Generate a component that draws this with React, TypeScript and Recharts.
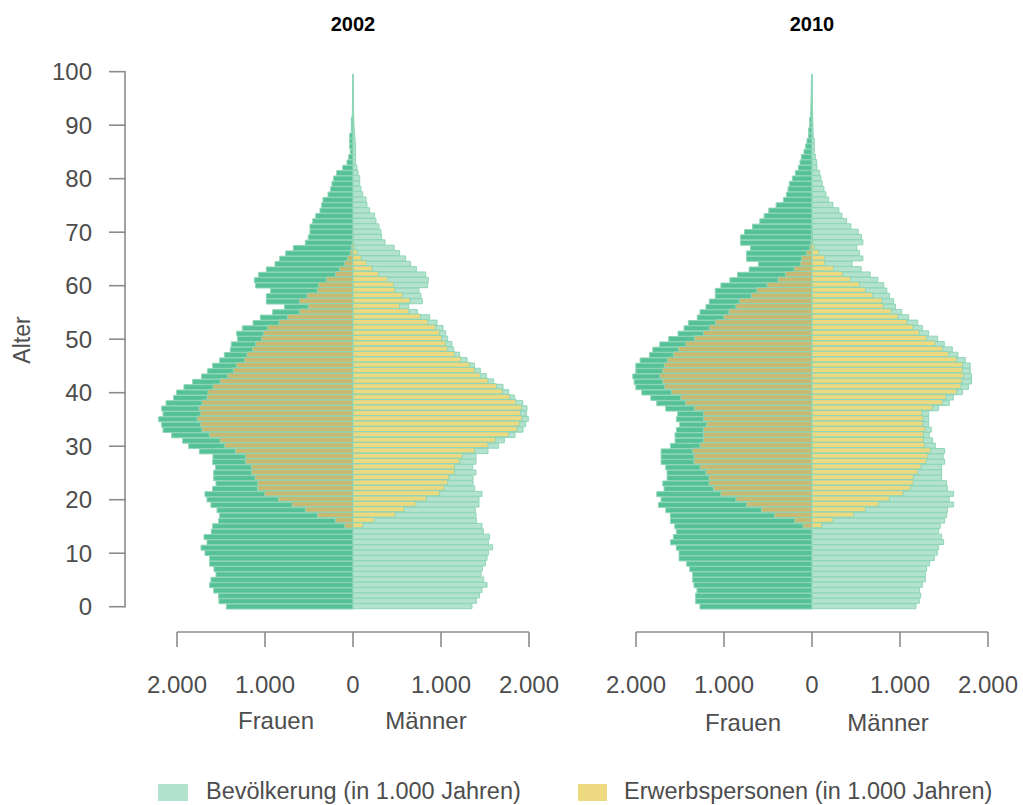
import React from 'react';
import { BarChart, Bar, XAxis, YAxis } from 'recharts';

// ---------- data (thousands of persons, index = age) ----------
const AGE_CATEGORIES = Array.from({ length: 101 }, (_, i) => i); // 0..100
const AGE_TICKS = [0, 10, 20, 30, 40, 50, 60, 70, 80, 90, 100];
const X_TICKS = [-2000, -1000, 0, 1000, 2000];
const LABOR_FIRST_AGE = 15;

const WOMEN_2002 = [
  1439, 1523, 1527, 1583, 1629, 1614, 1557, 1580, 1629, 1629,
  1682, 1727, 1659, 1693, 1610, 1595, 1527, 1515, 1545, 1614,
  1659, 1682, 1595, 1557, 1583, 1583, 1561, 1595, 1591, 1746,
  1867, 1936, 2061, 2159, 2174, 2208, 2159, 2174, 2125, 2038,
  2004, 1921, 1822, 1720, 1652, 1595, 1515, 1462, 1394, 1383,
  1311, 1322, 1258, 1136, 1053, 913, 780, 985, 985, 936,
  1106, 1121, 1072, 985, 886, 833, 765, 678, 542, 508,
  489, 489, 458, 424, 375, 356, 341, 284, 254, 239,
  220, 186, 117, 68, 49, 30, 38, 38, 38, 19,
  19, 19, 8, 7, 6, 6, 5, 5, 4, 4,
];
const MEN_2002 = [
  1352, 1402, 1436, 1466, 1523, 1485, 1455, 1470, 1504, 1523,
  1538, 1587, 1538, 1553, 1481, 1466, 1402, 1398, 1390, 1432,
  1432, 1466, 1383, 1364, 1364, 1398, 1360, 1398, 1398, 1534,
  1655, 1720, 1841, 1932, 1962, 1992, 1970, 1977, 1928, 1837,
  1769, 1705, 1599, 1515, 1447, 1379, 1296, 1212, 1144, 1125,
  1076, 1053, 1023, 955, 871, 731, 633, 788, 773, 750,
  849, 856, 826, 720, 655, 598, 530, 468, 364, 326,
  318, 295, 261, 246, 189, 159, 148, 110, 91, 76,
  76, 57, 45, 30, 30, 30, 27, 25, 20, 15,
  12, 10, 8, 7, 6, 5, 5, 4, 4, 3,
];
// ages 15..70
const WOMEN_LABOR_2002 = [
  95, 201, 405, 542, 693, 845, 1004, 1083, 1083, 1114,
  1155, 1155, 1220, 1220, 1337, 1458, 1511, 1633, 1716, 1735,
  1770, 1735, 1750, 1716, 1659, 1648, 1591, 1511, 1424, 1360,
  1322, 1235, 1205, 1140, 1106, 1038, 1019, 970, 841, 746,
  610, 508, 610, 523, 405, 390, 303, 201, 152, 98,
  61, 30, 20, 8, 5, 3,
];
const MEN_LABOR_2002 = [
  114, 239, 481, 583, 716, 833, 985, 1038, 1076, 1091,
  1155, 1155, 1212, 1242, 1383, 1534, 1621, 1773, 1864, 1894,
  1921, 1902, 1917, 1852, 1780, 1701, 1629, 1534, 1447, 1383,
  1326, 1227, 1155, 1076, 1053, 1008, 985, 939, 852, 769,
  636, 530, 648, 564, 477, 462, 394, 292, 220, 152,
  95, 49, 19, 8, 5, 3,
];

const WOMEN_2010 = [
  1273, 1322, 1322, 1307, 1341, 1356, 1356, 1390, 1424, 1511,
  1511, 1541, 1609, 1575, 1541, 1560, 1609, 1609, 1662, 1745,
  1715, 1764, 1681, 1696, 1647, 1647, 1662, 1715, 1715, 1715,
  1609, 1556, 1556, 1541, 1503, 1541, 1526, 1662, 1764, 1832,
  1934, 2002, 2021, 2036, 2002, 2002, 1953, 1847, 1809, 1730,
  1628, 1522, 1454, 1405, 1303, 1273, 1205, 1167, 1099, 1099,
  1035, 933, 846, 714, 608, 744, 744, 699, 812, 812,
  767, 676, 593, 544, 491, 408, 325, 291, 272, 257,
  223, 189, 155, 136, 121, 91, 72, 57, 38, 38,
  26, 26, 15, 13, 12, 10, 9, 8, 7, 6,
];
const MEN_2010 = [
  1182, 1220, 1235, 1220, 1254, 1288, 1288, 1303, 1337, 1390,
  1424, 1439, 1496, 1473, 1439, 1458, 1507, 1530, 1541, 1609,
  1560, 1609, 1541, 1530, 1473, 1473, 1473, 1507, 1492, 1507,
  1401, 1371, 1333, 1356, 1326, 1326, 1326, 1439, 1560, 1605,
  1711, 1779, 1813, 1813, 1798, 1798, 1741, 1658, 1594, 1503,
  1428, 1326, 1254, 1201, 1099, 1020, 948, 929, 880, 850,
  816, 748, 661, 559, 457, 578, 540, 510, 578, 563,
  525, 442, 393, 340, 306, 238, 189, 159, 136, 117,
  102, 87, 57, 53, 38, 26, 26, 26, 15, 12,
  10, 9, 8, 7, 6, 5, 5, 4, 4, 3,
];
// ages 15..70
const WOMEN_LABOR_2010 = [
  102, 196, 427, 574, 744, 865, 1035, 1118, 1171, 1171,
  1205, 1273, 1341, 1341, 1356, 1273, 1235, 1235, 1235, 1197,
  1235, 1235, 1337, 1439, 1492, 1598, 1673, 1696, 1730, 1696,
  1677, 1643, 1575, 1518, 1435, 1337, 1235, 1167, 1099, 1001,
  944, 865, 827, 691, 627, 510, 385, 302, 204, 132,
  117, 64, 26, 10, 6, 4,
];
const MEN_LABOR_2010 = [
  113, 238, 476, 608, 759, 880, 1035, 1118, 1152, 1152,
  1201, 1239, 1299, 1318, 1348, 1280, 1265, 1265, 1284, 1258,
  1265, 1250, 1371, 1484, 1522, 1643, 1692, 1703, 1722, 1711,
  1711, 1643, 1552, 1484, 1401, 1303, 1220, 1148, 1080, 978,
  899, 812, 797, 691, 608, 540, 438, 351, 246, 147,
  140, 79, 30, 10, 6, 4,
];

// ---------- styling / layout ----------
const FONT = '"Liberation Sans", Arial, Helvetica, sans-serif';
const TEXT = '#4d4d4d';
const AXIS = '#8c8c8c';
const WOMEN_FILL = '#55c197';
const MEN_FILL = '#b3e3ce';
const WOMEN_LABOR_FILL = '#c9b970';
const MEN_LABOR_FILL = '#ecd980';
const BAR_STROKE = '#8fd5b7';
const LEGEND_POP = '#b3e3ce';
const LEGEND_LAB = '#ecd980';

const CHART_W = 560;
const CHART_H = 700;
const MARGIN = { top: 69, right: 31, bottom: 0, left: 124 };
const Y_AXIS_W = 53;
const X_AXIS_H = 68;
const PAD_BOTTOM = 22.6;
const BAND = (CHART_H - MARGIN.top - X_AXIS_H - PAD_BOTTOM) / AGE_CATEGORIES.length;

function buildRows(women: number[], men: number[], womenLab: number[], menLab: number[]) {
  return AGE_CATEGORIES.map((age) => {
    const li = age - LABOR_FIRST_AGE;
    const wl = li >= 0 && li < womenLab.length ? womenLab[li] : undefined;
    const ml = li >= 0 && li < menLab.length ? menLab[li] : undefined;
    return {
      age,
      women: women[age] !== undefined ? -women[age] : null,
      men: men[age] !== undefined ? men[age] : null,
      womenLabor: wl ? -wl : null,
      menLabor: ml ? ml : null,
    };
  });
}

const ROWS_2002 = buildRows(WOMEN_2002, MEN_2002, WOMEN_LABOR_2002, MEN_LABOR_2002);
const ROWS_2010 = buildRows(WOMEN_2010, MEN_2010, WOMEN_LABOR_2010, MEN_LABOR_2010);

const fmt = (v: number) => String(Math.abs(v)).replace(/\B(?=(\d{3})+(?!\d))/g, '.');

const XTick = (props: any) => {
  const { x, y, payload } = props;
  return (
    <text x={x} y={y + 35} textAnchor="middle" dominantBaseline="central"
      fontFamily={FONT} fontSize={24} fill={TEXT}>
      {fmt(payload.value)}
    </text>
  );
};

const YTick = (props: any) => {
  const { x, y, payload } = props;
  const ax = x - 52; // axis drawn detached to the left of the plot
  const isTop = payload.value === AGE_TICKS[AGE_TICKS.length - 1];
  return (
    <g>
      <line x1={ax - 16} x2={ax} y1={y} y2={y} stroke={AXIS} strokeWidth={1.6} />
      {!isTop && (
        <line x1={ax} x2={ax} y1={y + 0.8} y2={y - 10 * BAND - 0.8} stroke={AXIS} strokeWidth={1.6} />
      )}
      <text x={ax - 33} y={y} textAnchor="end" dominantBaseline="central"
        fontFamily={FONT} fontSize={24} fill={TEXT}>
        {payload.value}
      </text>
    </g>
  );
};

function Pyramid({ rows, showY }: { rows: any[]; showY: boolean }) {
  return (
    <BarChart
      width={CHART_W}
      height={CHART_H}
      data={rows}
      layout="vertical"
      margin={MARGIN}
      barCategoryGap={0}
      barGap="-100%"
    >
      <XAxis
        type="number"
        domain={[-2000, 2000]}
        allowDataOverflow
        ticks={X_TICKS}
        interval={0}
        height={X_AXIS_H}
        tickSize={15}
        tickMargin={2}
        axisLine={{ stroke: AXIS, strokeWidth: 1.6 }}
        tickLine={{ stroke: AXIS, strokeWidth: 1.6 }}
        tick={<XTick />}
      />
      <YAxis
        type="category"
        dataKey="age"
        reversed
        width={Y_AXIS_W}
        padding={{ top: 0, bottom: PAD_BOTTOM }}
        ticks={AGE_TICKS}
        interval={0}
        axisLine={false}
        tickLine={false}
        tickSize={0}
        tickMargin={0}
        tick={showY ? <YTick /> : false}
      />
      <Bar dataKey="women" fill={WOMEN_FILL} stroke={BAR_STROKE} strokeWidth={1} isAnimationActive={false} />
      <Bar dataKey="men" fill={MEN_FILL} stroke={BAR_STROKE} strokeWidth={1} isAnimationActive={false} />
      <Bar dataKey="womenLabor" fill={WOMEN_LABOR_FILL} stroke={BAR_STROKE} strokeWidth={1} isAnimationActive={false} />
      <Bar dataKey="menLabor" fill={MEN_LABOR_FILL} stroke={BAR_STROKE} strokeWidth={1} isAnimationActive={false} />
    </BarChart>
  );
}

export default function App() {
  return (
    <div style={{ position: 'absolute', left: 0, top: 0, width: 1023, height: 805, overflow: 'hidden', background: '#fff', fontFamily: FONT }}>
      <style>{'.recharts-bar-rectangles, .recharts-bar { clip-path: none !important; }'}</style>
      <div style={{ position: 'absolute', left: 0, top: 0 }}>
        <Pyramid rows={ROWS_2002} showY />
      </div>
      <div style={{ position: 'absolute', left: 459, top: 0 }}>
        <Pyramid rows={ROWS_2010} showY={false} />
      </div>
      <svg width={1023} height={805} style={{ position: 'absolute', left: 0, top: 0, pointerEvents: 'none' }}>
        <text x={353} y={24} textAnchor="middle" dominantBaseline="central" fontFamily={FONT} fontWeight="bold" fontSize={20} fill="#000">2002</text>
        <text x={812} y={24} textAnchor="middle" dominantBaseline="central" fontFamily={FONT} fontWeight="bold" fontSize={20} fill="#000">2010</text>
        <text x={22} y={340} textAnchor="middle" dominantBaseline="central" transform="rotate(-90 22 340)" fontFamily={FONT} fontSize={23} fill={TEXT}>Alter</text>
        <text x={276} y={720} textAnchor="middle" dominantBaseline="central" fontFamily={FONT} fontSize={24} fill={TEXT}>Frauen</text>
        <text x={426} y={720} textAnchor="middle" dominantBaseline="central" fontFamily={FONT} fontSize={24} fill={TEXT}>Männer</text>
        <text x={743} y={722} textAnchor="middle" dominantBaseline="central" fontFamily={FONT} fontSize={24} fill={TEXT}>Frauen</text>
        <text x={888} y={722} textAnchor="middle" dominantBaseline="central" fontFamily={FONT} fontSize={24} fill={TEXT}>Männer</text>
        <rect x={158} y={784} width={30} height={17} fill={LEGEND_POP} />
        <text x={206} y={799} fontFamily={FONT} fontSize={23.5} fill={TEXT}>Bevölkerung (in 1.000 Jahren)</text>
        <rect x={578} y={784} width={29} height={17} fill={LEGEND_LAB} />
        <text x={624} y={799} fontFamily={FONT} fontSize={23.5} fill={TEXT}>Erwerbspersonen (in 1.000 Jahren)</text>
      </svg>
    </div>
  );
}
